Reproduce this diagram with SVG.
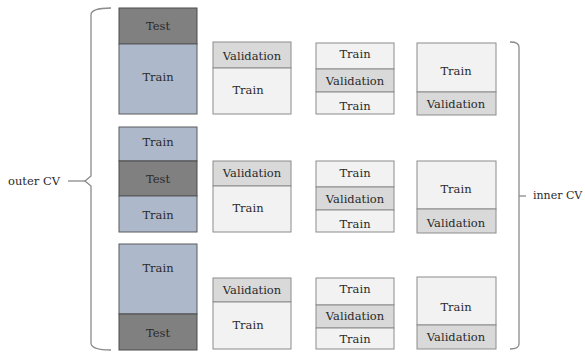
<svg xmlns="http://www.w3.org/2000/svg" width="585" height="352" viewBox="0 0 585 352">
<style>
text{font-family:'DejaVu Serif','Liberation Serif',serif;font-size:11.5px;fill:#2a2a2a;text-anchor:middle}
.test{fill:#808080;stroke:#4a4a4a;stroke-width:1}
.otr{fill:#adb9cb;stroke:#5a5a5a;stroke-width:1}
.val{fill:#d9d9d9;stroke:#8c8c8c;stroke-width:1}
.itr{fill:#f2f2f2;stroke:#8c8c8c;stroke-width:1}
.br{fill:none;stroke:#8a8a8a;stroke-width:1.3}
</style>
<rect width="585" height="352" fill="#fff"/>
<g id="connectors">
<path class="br" d="M111,8 Q91,8 91,15 L91,176 L85,181 L91,186 L91,343 Q91,350 111,350"/>
<path class="br" d="M68,181 L85,181"/>
<path class="br" d="M510,42 Q519,42 519,47 L519,344 Q519,349 510,349"/>
<path class="br" d="M519,196 L526,196"/>
</g>
<g id="outer-label"><text x="8" y="185" style="text-anchor:start">outer CV</text></g>
<g id="inner-label"><text x="533" y="199" style="text-anchor:start;font-size:11px">inner CV</text></g>
<g id="outer-fold-1">
<rect class="test" x="119" y="8" width="78" height="36"/><text x="158" y="30">Test</text>
<rect class="otr" x="119" y="44" width="78" height="70"/><text x="158" y="81">Train</text>
</g>
<g id="outer-fold-2">
<rect class="otr" x="119" y="127" width="78" height="34"/><text x="158" y="146">Train</text>
<rect class="test" x="119" y="161" width="78" height="35"/><text x="158" y="183">Test</text>
<rect class="otr" x="119" y="196" width="78" height="36"/><text x="158" y="219">Train</text>
</g>
<g id="outer-fold-3">
<rect class="otr" x="119" y="244" width="78" height="70"/><text x="158" y="272">Train</text>
<rect class="test" x="119" y="314" width="78" height="36"/><text x="158" y="337">Test</text>
</g>
<g id="inner-1-1">
<rect class="val" x="213" y="42" width="78" height="26"/><text x="252" y="60">Validation</text>
<rect class="itr" x="213" y="68" width="78" height="46"/><text x="248" y="94">Train</text>
</g>
<g id="inner-1-2">
<rect class="itr" x="316" y="43" width="78" height="26"/><text x="355" y="58">Train</text>
<rect class="val" x="316" y="69" width="78" height="23"/><text x="355" y="85">Validation</text>
<rect class="itr" x="316" y="92" width="78" height="22"/><text x="355" y="110">Train</text>
</g>
<g id="inner-1-3">
<rect class="itr" x="417" y="43" width="79" height="49"/><text x="456" y="75">Train</text>
<rect class="val" x="417" y="92" width="79" height="23"/><text x="456" y="108">Validation</text>
</g>
<g id="inner-2-1">
<rect class="val" x="213" y="161" width="78" height="25"/><text x="252" y="177">Validation</text>
<rect class="itr" x="213" y="186" width="78" height="46"/><text x="248" y="212">Train</text>
</g>
<g id="inner-2-2">
<rect class="itr" x="316" y="161" width="78" height="26"/><text x="355" y="177">Train</text>
<rect class="val" x="316" y="187" width="78" height="23"/><text x="355" y="203">Validation</text>
<rect class="itr" x="316" y="210" width="78" height="22"/><text x="355" y="228">Train</text>
</g>
<g id="inner-2-3">
<rect class="itr" x="417" y="161" width="79" height="48"/><text x="456" y="193">Train</text>
<rect class="val" x="417" y="209" width="79" height="24"/><text x="456" y="227">Validation</text>
</g>
<g id="inner-3-1">
<rect class="val" x="213" y="278" width="78" height="24"/><text x="252" y="294">Validation</text>
<rect class="itr" x="213" y="302" width="78" height="47"/><text x="248" y="329">Train</text>
</g>
<g id="inner-3-2">
<rect class="itr" x="316" y="278" width="78" height="27"/><text x="355" y="293">Train</text>
<rect class="val" x="316" y="305" width="78" height="23"/><text x="355" y="320">Validation</text>
<rect class="itr" x="316" y="328" width="78" height="21"/><text x="355" y="343">Train</text>
</g>
<g id="inner-3-3">
<rect class="itr" x="417" y="277" width="79" height="48"/><text x="456" y="311">Train</text>
<rect class="val" x="417" y="325" width="79" height="24"/><text x="456" y="341">Validation</text>
</g>
</svg>
